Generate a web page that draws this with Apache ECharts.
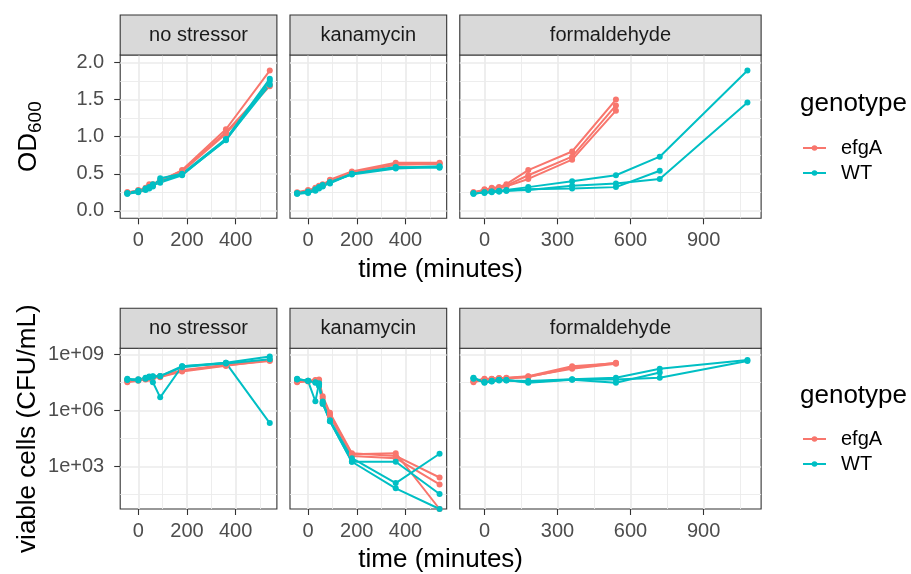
<!DOCTYPE html>
<html>
<head>
<meta charset="utf-8">
<script src="https://cdn.jsdelivr.net/npm/echarts@6/dist/echarts.min.js"></script>
<style>
  html, body { margin: 0; padding: 0; background: #ffffff; }
  #chart { width: 911px; height: 574px; }
</style>
</head>
<body>
<div id="chart"></div>
<script>
// ---- sampling times (minutes relative to stressor addition) ----
const timesShort = [-45, 0, 30, 45, 60, 90, 180, 360, 540];
const timesFormEfgA = [-45, 0, 30, 60, 90, 180, 360, 540];
const timesFormWT = [-45, 0, 30, 60, 90, 180, 360, 540, 720, 1080];

const stressors = ['no stressor', 'kanamycin', 'formaldehyde'];
const genotypes = ['efgA', 'WT'];

// ---- OD600, one row per biological replicate ----
const odNoneEfgA = [
  [0.25, 0.27, 0.30, 0.36, 0.35, 0.40, 0.55, 1.10, 1.89],
  [0.24, 0.28, 0.31, 0.34, 0.36, 0.41, 0.54, 1.06, 1.70],
  [0.25, 0.26, 0.29, 0.32, 0.34, 0.39, 0.53, 1.04, 1.68]
];
const odNoneWT = [
  [0.23, 0.25, 0.29, 0.31, 0.33, 0.44, 0.50, 0.97, 1.78],
  [0.23, 0.26, 0.28, 0.32, 0.36, 0.40, 0.49, 0.95, 1.75],
  [0.24, 0.27, 0.30, 0.30, 0.35, 0.38, 0.48, 0.96, 1.70]
];
const odKanEfgA = [
  [0.24, 0.27, 0.30, 0.33, 0.35, 0.42, 0.53, 0.65, 0.65],
  [0.25, 0.28, 0.31, 0.32, 0.36, 0.40, 0.52, 0.63, 0.64],
  [0.24, 0.26, 0.29, 0.34, 0.34, 0.41, 0.51, 0.62, 0.63]
];
const odKanWT = [
  [0.23, 0.25, 0.28, 0.31, 0.33, 0.38, 0.50, 0.58, 0.60],
  [0.24, 0.26, 0.29, 0.30, 0.35, 0.39, 0.49, 0.57, 0.59],
  [0.23, 0.24, 0.27, 0.32, 0.34, 0.37, 0.50, 0.59, 0.58]
];
const odFormEfgA = [
  [0.25, 0.28, 0.31, 0.32, 0.36, 0.55, 0.80, 1.50],
  [0.24, 0.29, 0.30, 0.31, 0.34, 0.48, 0.73, 1.42],
  [0.25, 0.27, 0.29, 0.30, 0.33, 0.43, 0.69, 1.35]
];
const odFormWT = [
  [0.23, 0.25, 0.26, 0.27, 0.28, 0.32, 0.40, 0.48, 0.73, 1.89],
  [0.24, 0.24, 0.25, 0.26, 0.27, 0.29, 0.30, 0.32, 0.54],
  [0.23, 0.25, 0.26, 0.26, 0.27, 0.28, 0.34, 0.37, 0.43, 1.46]
];

// ---- viable cells (CFU/mL); 0 = no colonies recovered ----
const cfuNoneEfgA = [
  [3.7e7, 4.2e7, 5.0e7, 5.5e7, 6.0e7, 6.5e7, 1.3e8, 2.6e8, 4.4e8],
  [3.2e7, 3.8e7, 4.5e7, 5.0e7, 5.5e7, 6.0e7, 1.2e8, 2.4e8, 4.8e8],
  [4.0e7, 4.5e7, 4.8e7, 6.0e7, 6.2e7, 7.0e7, 1.4e8, 2.8e8, 5.0e8]
];
const cfuNoneWT = [
  [4.9e7, 4.4e7, 5.5e7, 6.5e7, 6.8e7, 6.8e7, 2.3e8, 3.5e8, 7.6e8],
  [4.5e7, 4.0e7, 5.0e7, 6.0e7, 3.2e7, 5.0e6, 2.3e8, 3.2e8, 5.4e8],
  [4.2e7, 4.6e7, 5.2e7, 6.2e7, 6.5e7, 7.0e7, 2.0e8, 3.5e8, 2.1e5]
];
const cfuKanEfgA = [
  [3.7e7, 3.9e7, 4.2e7, 4.5e7, 5.8e6, 7.4e5, 5.2e3, 3.7e3, 2.6e2],
  [3.5e7, 3.7e7, 4.0e7, 4.0e7, 2.5e6, 5.0e5, 3.7e3, 2.8e3, 1.1e2],
  [3.2e7, 3.5e7, 3.8e7, 3.8e7, 4.5e6, 6.0e5, 4.5e3, 5.2e3, 0]
];
const cfuKanWT = [
  [4.9e7, 3.7e7, 3.1e6, 2.8e7, 3.0e6, 2.6e5, 1.8e3, 1.8e3, 34],
  [4.5e7, 3.9e7, 3.2e7, 2.0e7, 2.2e6, 3.0e5, 2.8e3, 1.3e2, 4.8e3],
  [4.7e7, 3.8e7, 3.0e7, 2.5e7, 2.5e6, 2.6e5, 1.8e3, 68, 0]
];
const cfuFormEfgA = [
  [3.7e7, 4.9e7, 5.0e7, 5.4e7, 5.5e7, 6.8e7, 2.3e8, 3.3e8],
  [3.2e7, 4.5e7, 4.6e7, 5.0e7, 5.2e7, 6.5e7, 1.7e8, 3.1e8],
  [3.5e7, 4.7e7, 4.8e7, 5.2e7, 5.0e7, 6.0e7, 1.9e8, 3.5e8]
];
const cfuFormWT = [
  [5.6e7, 3.0e7, 3.5e7, 4.2e7, 4.0e7, 3.7e7, 4.6e7, 5.6e7, 1.7e8, 4.9e8],
  [5.0e7, 3.2e7, 3.8e7, 4.0e7, 4.2e7, 3.0e7, 4.4e7, 3.0e7, 1.05e8],
  [5.3e7, 3.4e7, 3.6e7, 4.4e7, 4.1e7, 3.3e7, 4.5e7, 4.5e7, 5.6e7, 4.4e8]
];

// ---- axis breaks ----
const timeTicksShort = [0, 200, 400];
const timeMinorShort = [100, 300, 500];
const timeTicksLong = [0, 300, 600, 900];
const timeMinorLong = [150, 450, 750, 1050];
const odTicks = [0, 0.5, 1.0, 1.5, 2.0];
const odMinor = [0.25, 0.75, 1.25, 1.75];
const odLimits = [0, 2];
const cfuTicks = [1e3, 1e6, 1e9];
const cfuMinor = [10 ** 1.5, 10 ** 4.5, 10 ** 7.5];
const cfuLogRange = [0.73, 9.32];   // log10 extent of the viability panels

// ---- colours ----
const colors = { efgA: '#F8766D', WT: '#00BFC4' };
const FONT = '"Liberation Sans", Arial, sans-serif';

// ---- facet layout ----
const pxPerMin = 0.2435;
const panelLeft0 = 120.2;
const panelGap = 13.1;
const rows = [
  { top: 55, height: 163.3, stripTop: 15 },
  { top: 348.3, height: 160.7, stripTop: 308.3 }
];
const stripH = 40;

const panelTimes = [
  { efgA: timesShort, WT: timesShort, ticks: timeTicksShort, minor: timeMinorShort },
  { efgA: timesShort, WT: timesShort, ticks: timeTicksShort, minor: timeMinorShort },
  { efgA: timesFormEfgA, WT: timesFormWT, ticks: timeTicksLong, minor: timeMinorLong }
];
const odData = [
  { efgA: odNoneEfgA, WT: odNoneWT },
  { efgA: odKanEfgA, WT: odKanWT },
  { efgA: odFormEfgA, WT: odFormWT }
];
const cfuData = [
  { efgA: cfuNoneEfgA, WT: cfuNoneWT },
  { efgA: cfuKanEfgA, WT: cfuKanWT },
  { efgA: cfuFormEfgA, WT: cfuFormWT }
];

// x extents: data range plus 5% on each side
const xExtents = panelTimes.map(p => {
  const all = p.efgA.concat(p.WT);
  const lo = Math.min(...all), hi = Math.max(...all);
  const pad = 0.05 * (hi - lo);
  return [lo - pad, hi + pad];
});
const panelX = [];
{
  let left = panelLeft0;
  xExtents.forEach(ext => {
    const w = (ext[1] - ext[0]) * pxPerMin;
    panelX.push({ left, width: w });
    left += w + panelGap;
  });
}
const odPad = 0.05 * (odLimits[1] - odLimits[0]);
const odRange = [odLimits[0] - odPad, odLimits[1] + odPad];

const grids = [], xAxes = [], yAxes = [], series = [], graphics = [];

const gridLineItems = (axisKey, majors, minors) =>
  majors.map(v => ({ [axisKey]: v, lineStyle: { color: '#EBEBEB', width: 1.7, type: 'solid' } }))
    .concat(minors.map(v => ({ [axisKey]: v, lineStyle: { color: '#EBEBEB', width: 0.9, type: 'solid' } })));

rows.forEach((row, r) => {
  panelX.forEach((px, p) => {
    const idx = r * 3 + p;
    grids.push({
      left: px.left, top: row.top, width: px.width, height: row.height,
      show: true, backgroundColor: '#ffffff', borderColor: '#333333', borderWidth: 1.1
    });
    xAxes.push({
      gridIndex: idx, type: 'value', min: xExtents[p][0], max: xExtents[p][1],
      axisLine: { show: false, onZero: false },
      axisTick: { show: true, customValues: panelTimes[p].ticks, length: 6, lineStyle: { color: '#333333', width: 1.1 } },
      axisLabel: { customValues: panelTimes[p].ticks, margin: 12, fontSize: 20, color: '#4D4D4D', fontFamily: FONT },
      splitLine: { show: false }
    });
    const isOD = r === 0;
    const yMajor = isOD ? odTicks : cfuTicks.map(Math.log10);
    const yMinor = isOD ? odMinor : cfuMinor.map(Math.log10);
    yAxes.push({
      gridIndex: idx, type: 'value',
      min: isOD ? odRange[0] : cfuLogRange[0],
      max: isOD ? odRange[1] : cfuLogRange[1],
      axisLine: { show: false, onZero: false },
      axisTick: { show: p === 0, customValues: yMajor, length: 6, lineStyle: { color: '#333333', width: 1.1 } },
      axisLabel: {
        show: p === 0, customValues: yMajor, margin: 16, fontSize: 20, color: '#4D4D4D', fontFamily: FONT,
        formatter: isOD ? (v => Number(v).toFixed(1)) : (v => '1e+' + String(Math.round(v)).padStart(2, '0'))
      },
      splitLine: { show: false }
    });
    // background grid lines (major + minor)
    series.push({
      type: 'line', name: 'grid-' + idx, xAxisIndex: idx, yAxisIndex: idx, data: [],
      silent: true, animation: false,
      markLine: {
        silent: true, z: 1, symbol: ['none', 'none'], label: { show: false }, animation: false,
        emphasis: { disabled: true },
        data: gridLineItems('xAxis', panelTimes[p].ticks, panelTimes[p].minor)
          .concat(gridLineItems('yAxis', yMajor, yMinor))
      }
    });
    // replicate growth / viability curves
    const src = isOD ? odData[p] : cfuData[p];
    genotypes.forEach(g => {
      const times = panelTimes[p][g];
      src[g].forEach(rep => {
        series.push({
          type: 'line', name: g, xAxisIndex: idx, yAxisIndex: idx,
          data: rep.map((v, k) => [times[k], isOD ? v : (v > 0 ? Math.log10(v) : cfuLogRange[0])]),
          symbol: 'circle', symbolSize: 6, showSymbol: true,
          lineStyle: { width: 2, color: colors[g] },
          itemStyle: { color: colors[g] },
          emphasis: { disabled: true },
          z: 3, animation: false
        });
      });
    });
    // facet strip
    graphics.push({
      type: 'rect', z: 10,
      shape: { x: px.left, y: row.stripTop, width: px.width, height: stripH },
      style: { fill: '#D9D9D9', stroke: '#333333', lineWidth: 1.1 }
    });
    graphics.push({
      type: 'text', z: 11, x: px.left + px.width / 2, y: row.stripTop + stripH / 2,
      style: { text: stressors[p], fontSize: 20, fontFamily: FONT, fill: '#1A1A1A', align: 'center', verticalAlign: 'middle' }
    });
  });
});

// axis titles
const plotCenterX = (panelX[0].left + panelX[2].left + panelX[2].width) / 2;
graphics.push(
  { type: 'text', x: plotCenterX, y: 270, style: { text: 'time (minutes)', fontSize: 26, fontFamily: FONT, fill: '#000', align: 'center', verticalAlign: 'middle' } },
  { type: 'text', x: plotCenterX, y: 560, style: { text: 'time (minutes)', fontSize: 26, fontFamily: FONT, fill: '#000', align: 'center', verticalAlign: 'middle' } },
  {
    type: 'text', x: 29, y: rows[0].top + rows[0].height / 2, rotation: Math.PI / 2,
    style: {
      text: '{a|OD}{b|600}', align: 'center', verticalAlign: 'middle', fill: '#000',
      rich: {
        a: { fontSize: 26, fontFamily: FONT, fill: '#000' },
        b: { fontSize: 19, fontFamily: FONT, fill: '#000', padding: [14, 0, 0, 0] }
      }
    }
  },
  {
    type: 'text', x: 28, y: rows[1].top + rows[1].height / 2, rotation: Math.PI / 2,
    style: { text: 'viable cells (CFU/mL)', fontSize: 26, fontFamily: FONT, fill: '#000', align: 'center', verticalAlign: 'middle' }
  },
  { type: 'text', x: 800, y: 104, style: { text: 'genotype', fontSize: 26, fontFamily: FONT, fill: '#000', align: 'left', verticalAlign: 'middle' } },
  { type: 'text', x: 800, y: 396, style: { text: 'genotype', fontSize: 26, fontFamily: FONT, fill: '#000', align: 'left', verticalAlign: 'middle' } }
);

const legendItem = (name, top) => ({
  data: [name], left: 797, top, orient: 'vertical', selectedMode: false,
  itemWidth: 23, itemHeight: 7,
  textStyle: { fontSize: 20, fontFamily: FONT, color: '#000', padding: [0, 0, 0, 10] }
});

const chart = echarts.init(document.getElementById('chart'), null, { renderer: 'canvas' });
chart.setOption({
  animation: false,
  backgroundColor: '#ffffff',
  grid: grids,
  xAxis: xAxes,
  yAxis: yAxes,
  series,
  graphic: graphics,
  legend: [
    legendItem('efgA', 133),
    legendItem('WT', 158),
    legendItem('efgA', 424),
    legendItem('WT', 449)
  ]
});
</script>
</body>
</html>
